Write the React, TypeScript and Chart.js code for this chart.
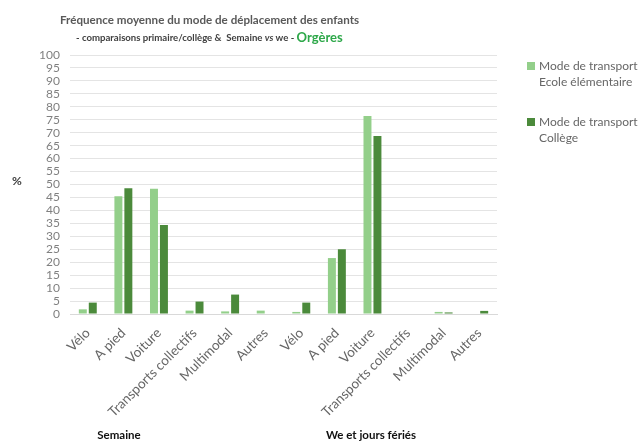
import React, { useEffect, useRef } from "react";
import { Chart, registerables } from "chart.js";

Chart.register(...registerables);

const categories = [
  "Vélo", "A pied", "Voiture", "Transports collectifs", "Multimodal", "Autres",
  "Vélo", "A pied", "Voiture", "Transports collectifs", "Multimodal", "Autres",
];
const ecoleElementaire = [1.8, 45.5, 48.4, 1.3, 1.0, 1.3, 0.8, 21.6, 76.4, 0.2, 0.8, 0];
const college = [4.4, 48.6, 34.4, 4.8, 7.5, 0, 4.4, 25.0, 68.7, 0, 0.6, 1.2];
const seriesNames = [["Mode de transport", "Ecole élémentaire"], ["Mode de transport", "Collège"]];
const groupLabels = ["Semaine", "We et jours fériés"];
const titleText = "Fréquence moyenne du mode de déplacement des enfants";
const yTitle = "%";

const LIGHT = "#93cf8a";
const DARK = "#4b8a3b";
const FONT = "Lato, 'Open Sans', sans-serif";

const overlayPlugin = {
  id: "overlay",
  afterDraw(chart: any) {
    const ctx = chart.ctx as CanvasRenderingContext2D;
    ctx.save();
    // Title
    ctx.fillStyle = "#595959";
    ctx.font = `bold 11.6px ${FONT}`;
    ctx.textBaseline = "middle";
    ctx.textAlign = "left";
    ctx.fillText(titleText, 60, 20);
    // Subtitle
    let x = 76;
    const y = 38;
    const parts: [string, string, string][] = [
      ["- comparaisons primaire/collège &  Semaine ", `bold 9.6px ${FONT}`, "#404040"],
      ["vs", `italic bold 9.6px ${FONT}`, "#404040"],
      [" we - ", `bold 9.6px ${FONT}`, "#404040"],
      ["Orgères", `bold 13px ${FONT}`, "#2ea84a"],
    ];
    for (const [t, f, c] of parts) {
      ctx.font = f;
      ctx.fillStyle = c;
      ctx.fillText(t, x, y);
      x += ctx.measureText(t).width;
    }
    // % label
    ctx.font = `bold 12px ${FONT}`;
    ctx.fillStyle = "#404040";
    ctx.textAlign = "center";
    ctx.fillText(yTitle, 17, 181);
    // Legend
    const colors = [LIGHT, DARK];
    const legendY = [66, 122];
    ctx.font = `12px ${FONT}`;
    ctx.textAlign = "left";
    for (let i = 0; i < 2; i++) {
      ctx.fillStyle = colors[i];
      ctx.fillRect(527, legendY[i] - 4, 8, 8);
      ctx.fillStyle = "#666666";
      ctx.fillText(seriesNames[i][0], 539, legendY[i]);
      ctx.fillText(seriesNames[i][1], 539, legendY[i] + 16);
    }
    // Group labels
    ctx.font = `bold 11.5px ${FONT}`;
    ctx.fillStyle = "#111111";
    ctx.textAlign = "center";
    ctx.fillText(groupLabels[0], 119, 435);
    ctx.fillText(groupLabels[1], 371, 435);
    ctx.restore();
  },
};

export default function App() {
  const ref = useRef<HTMLCanvasElement>(null);
  useEffect(() => {
    let chart: Chart | null = null;
    let cancelled = false;
    const make = () => {
      if (cancelled || !ref.current) return;
      chart = new Chart(ref.current, {
        type: "bar",
        data: {
          labels: categories,
          datasets: [
            {
              label: seriesNames[0].join(" "),
              data: ecoleElementaire,
              backgroundColor: LIGHT,
              categoryPercentage: 0.56,
              barPercentage: 0.8,
            },
            {
              label: seriesNames[1].join(" "),
              data: college,
              backgroundColor: DARK,
              categoryPercentage: 0.56,
              barPercentage: 0.8,
            },
          ],
        },
        options: {
          responsive: false,
          animation: false,
          layout: { padding: { top: 55, right: 143, left: 0, bottom: 0 } },
          plugins: {
            legend: { display: false },
            title: { display: false },
            tooltip: { enabled: false },
          },
          scales: {
            x: {
              grid: { display: false },
              border: { color: "#d9d9d9" },
              ticks: {
                minRotation: 45,
                maxRotation: 45,
                color: "#666666",
                font: { family: FONT, size: 13.5 },
                autoSkip: false,
              },
              afterFit: (s: any) => {
                s.height = 130;
              },
            },
            y: {
              min: 0,
              max: 100,
              grid: { color: "#e4e4e4", drawTicks: false },
              border: { display: false },
              ticks: {
                stepSize: 5,
                autoSkip: false,
                color: "#808080",
                font: { family: FONT, size: 12 },
                padding: 10,
              },
              afterFit: (s: any) => {
                s.width = 70;
              },
            },
          },
        },
        plugins: [overlayPlugin],
      });
    };
    const fonts = (document as any).fonts;
    if (fonts && fonts.load) {
      Promise.all([
        fonts.load(`bold 13px Lato`),
        fonts.load(`12px Lato`),
        fonts.load(`italic bold 10px Lato`),
      ]).then(make, make);
    } else {
      make();
    }
    return () => {
      cancelled = true;
      if (chart) chart.destroy();
    };
  }, []);
  return (
    <div style={{ position: "absolute", left: 0, top: 0, width: 640, height: 444, background: "#fff" }}>
      <canvas ref={ref} width={640} height={444} />
    </div>
  );
}
